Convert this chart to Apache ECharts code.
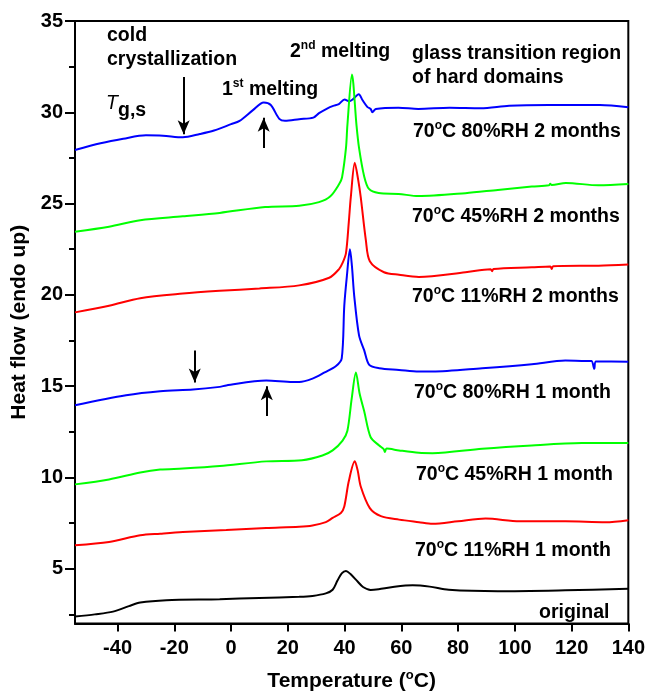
<!DOCTYPE html>
<html>
<head>
<meta charset="utf-8">
<script src="https://cdn.jsdelivr.net/npm/echarts@6/dist/echarts.min.js"></script>
<style>
  html, body { margin: 0; padding: 0; background: #fff; }
  #chart { width: 648px; height: 697px; }
</style>
</head>
<body>
<div id="chart"></div>
<script>
var FONT = '"Liberation Sans", Arial, sans-serif';

// x tick labels and y tick labels
var xTicks = [-40, -20, 0, 20, 40, 60, 80, 100, 120, 140];
var yTicks = [5, 10, 15, 20, 25, 30, 35];
var yMinorTicks = [2.5, 7.5, 12.5, 17.5, 22.5, 27.5, 32.5];

// [temperature, heat flow]
var rh80m2 = [[-55,27.93],[-46,28.3],[-38,28.55],[-30,28.74],[-24,28.72],[-17,28.63],[-11,28.81],[-6,29.0],[0,29.35],[3,29.53],
  [7.7,30.12],[11.5,30.54],[14,30.4],[17,29.64],[19,29.53],[24,29.62],[29,29.71],[31,29.95],[34,30.22],[36,30.35],[38,30.45],
  [40,30.7],[41.6,30.6],[43,30.72],[45,30.99],[46.3,30.67],[48,30.3],[49.2,30.18],[49.8,30.0],[51,30.18],[59,30.25],[66,30.18],
  [77,30.25],[88,30.22],[98,30.36],[112,30.4],[130,30.4],[140,30.27]];
var rh45m2 = [[-55,23.46],[-43,23.73],[-32,24.09],[-17,24.3],[-4,24.49],[12,24.81],[24,24.88],[31,25.08],[35,25.4],[38.1,26.07],
  [39.1,26.43],[40.5,28.05],[41,29.3],[42.6,32.07],[44.2,29.3],[45.1,28.05],[46.9,26.5],[48.6,25.8],[52,25.58],[59,25.53],
  [66,25.41],[82.6,25.57],[94,25.75],[106,25.93],[112,26.0],[112.5,26.08],[113,26.02],[118,26.13],[129.5,26.0],[140,26.07]];
var rh11m2 = [[-55,19.04],[-43,19.4],[-32,19.82],[-17,20.07],[-4,20.22],[10,20.35],[24,20.52],[34.6,20.94],[38,21.4],[39.3,21.75],
  [40.5,22.29],[41.5,24],[42.2,25.35],[43.6,27.24],[44.8,26.3],[45.7,25.35],[47.5,23.0],[48.9,21.84],[53.9,21.24],[59.2,21.1],
  [66.2,20.98],[82.6,21.24],[91.5,21.4],[92,21.3],[92.5,21.42],[106,21.51],[112.5,21.56],[113,21.42],[113.5,21.57],[129.5,21.6],[140,21.66]];
var rh80m1 = [[-55,13.95],[-37,14.5],[-25,14.72],[-13.4,14.81],[-4,14.96],[-1.7,15.04],[12.4,15.31],[21.7,15.23],[24,15.23],
  [28.7,15.41],[33,15.75],[37,16.1],[39,16.52],[39.9,19.4],[40.8,21.0],[41.9,22.5],[42.6,21.57],[43.4,19.95],[45.1,17.78],
  [46.9,16.97],[48.7,16.16],[52.2,15.98],[59.2,15.89],[66.2,15.8],[71,15.8],[88.5,15.98],[106,16.2],[117.8,16.4],[125,16.38],
  [127,16.38],[128,15.95],[128.6,16.35],[140,16.34]];
var rh45m1 = [[-55,9.62],[-43,9.89],[-32,10.27],[-25,10.43],[-17,10.49],[-4,10.63],[12.4,10.88],[25,10.94],[32.2,11.2],[35.8,11.48],
  [39.3,12.02],[41,12.56],[42.5,14.3],[44,15.75],[45.3,14.6],[46.9,13.64],[49.2,12.2],[52.2,11.75],[53.8,11.55],[54.2,11.4],
  [54.8,11.58],[59.2,11.48],[66.2,11.35],[71,11.33],[88.5,11.57],[106,11.75],[123.6,11.88],[140,11.89]];
var rh11m1 = [[-55,6.29],[-43,6.47],[-32,6.83],[-25,6.92],[-17,7.01],[-1.7,7.12],[12.4,7.23],[24,7.3],[28.7,7.37],[33.4,7.55],
  [35.8,7.78],[38.7,8.05],[39.9,8.41],[41.5,9.8],[43.6,10.88],[44.6,10.4],[45.7,9.5],[48.9,8.32],[52.8,7.88],[59.2,7.69],
  [66.2,7.55],[71,7.46],[80,7.6],[89.7,7.75],[101.7,7.6],[117.8,7.6],[132,7.55],[140,7.66]];
var original = [[-55,2.38],[-48,2.5],[-41.6,2.65],[-36,2.95],[-32,3.15],[-22.8,3.28],[-4,3.33],[10,3.4],[24,3.46],[28.7,3.51],
  [33.4,3.65],[35.8,3.85],[37.5,4.35],[39,4.75],[40.5,4.88],[42,4.72],[44.6,4.3],[46.5,4.0],[49.2,3.84],[52,3.88],[57,4.0],
  [64,4.09],[70,4.02],[76.7,3.85],[94,3.77],[117.8,3.82],[140,3.9]];

// arrows: [start, end]
var arrows = [
  [[-16.7, 31.93], [-16.7, 28.8]],
  [[11.5, 28.05], [11.5, 29.7]],
  [[-12.8, 16.95], [-12.8, 15.2]],
  [[12.6, 13.37], [12.6, 15.0]]
];

var myChart = echarts.init(document.getElementById('chart'));

var rich = {
  n: { fontSize: 19.5, fontWeight: 'bold', fontFamily: FONT, lineHeight: 24, fill: '#000' },
  s: { fontSize: 12, fontWeight: 'bold', fontFamily: FONT, lineHeight: 11, verticalAlign: 'top', fill: '#000' }
};

function label(x, y, text) {
  return {
    type: 'text', left: x, top: y - 12, silent: true,
    style: { text: text, rich: rich, fill: '#000', font: 'bold 19.5px ' + FONT }
  };
}

function line(data, color) {
  return {
    type: 'line', data: data, showSymbol: false, smooth: 0.3, animation: false,
    lineStyle: { color: color, width: 2 }, itemStyle: { color: color }
  };
}

var blackSeries = line(original, '#000');
blackSeries.markLine = {
  silent: true, animation: false,
  symbol: ['none', 'arrow'], symbolSize: [9, 14],
  label: { show: false },
  lineStyle: { color: '#000', width: 2, type: 'solid' },
  data: arrows.map(function (a) {
    return [{ coord: a[0] }, { coord: a[1] }];
  })
};

option = {
  backgroundColor: '#fff',
  grid: { left: 75, right: 18, top: 21, bottom: 65, show: true, borderColor: '#000', borderWidth: 2 },
  xAxis: {
    type: 'value', min: -55, max: 140,
    name: '{n|Temperature (}{s|o}{n|C)}', nameLocation: 'middle', nameGap: 45,
    nameTextStyle: {
      rich: {
        n: { fontSize: 21, fontWeight: 'bold', fontFamily: FONT, lineHeight: 26, color: '#000' },
        s: { fontSize: 13, fontWeight: 'bold', fontFamily: FONT, lineHeight: 12, verticalAlign: 'top', color: '#000' }
      }
    },
    axisLine: { onZero: false, lineStyle: { color: '#000', width: 2 } },
    axisTick: { show: true, inside: false, length: 8, lineStyle: { color: '#000', width: 2 }, customValues: xTicks },
    axisLabel: { color: '#000', fontSize: 20, fontWeight: 'bold', fontFamily: FONT, margin: 15, customValues: xTicks },
    splitLine: { show: false }
  },
  yAxis: [{
    type: 'value', min: 2, max: 35,
    name: 'Heat flow (endo up)', nameLocation: 'middle', nameGap: 42,
    nameTextStyle: { color: '#000', fontSize: 21, fontWeight: 'bold', fontFamily: FONT },
    axisLine: { show: true, onZero: false, lineStyle: { color: '#000', width: 2 } },
    axisTick: { show: true, inside: false, length: 10, lineStyle: { color: '#000', width: 2 }, customValues: yTicks },
    axisLabel: { color: '#000', fontSize: 20, fontWeight: 'bold', fontFamily: FONT, margin: 12, customValues: yTicks },
    splitLine: { show: false }
  }, {
    type: 'value', min: 2, max: 35, position: 'left',
    axisLine: { show: false, onZero: false },
    axisTick: { show: true, inside: false, length: 6, lineStyle: { color: '#000', width: 2 }, customValues: yMinorTicks },
    axisLabel: { show: false },
    splitLine: { show: false }
  }],
  series: [
    line(rh80m2, '#0000ff'),
    line(rh45m2, '#00ff00'),
    line(rh11m2, '#ff0000'),
    line(rh80m1, '#0000ff'),
    line(rh45m1, '#00ff00'),
    line(rh11m1, '#ff0000'),
    blackSeries
  ],
  graphic: [
    label(107, 38, '{n|cold}'),
    label(107, 62, '{n|crystallization}'),
    { type: 'text', left: 106, top: 94, silent: true,
      style: { text: 'T', fill: '#000', font: 'italic 19.5px ' + FONT } },
    { type: 'text', left: 118, top: 101, silent: true,
      style: { text: 'g,s', fill: '#000', font: 'bold 19.5px ' + FONT } },
    label(222, 90, '{n|1}{s|st}{n| melting}'),
    label(290, 52, '{n|2}{s|nd}{n| melting}'),
    label(412, 56, '{n|glass transition region}'),
    label(412, 80, '{n|of hard domains}'),
    label(413, 132, '{n|70}{s|o}{n|C 80%RH 2 months}'),
    label(412, 217, '{n|70}{s|o}{n|C 45%RH 2 months}'),
    label(412, 297, '{n|70}{s|o}{n|C 11%RH 2 months}'),
    label(414, 393, '{n|70}{s|o}{n|C 80%RH 1 month}'),
    label(416, 475, '{n|70}{s|o}{n|C 45%RH 1 month}'),
    label(415, 551, '{n|70}{s|o}{n|C 11%RH 1 month}'),
    label(539, 615, '{n|original}')
  ]
};

myChart.setOption(option);
</script>
</body>
</html>
